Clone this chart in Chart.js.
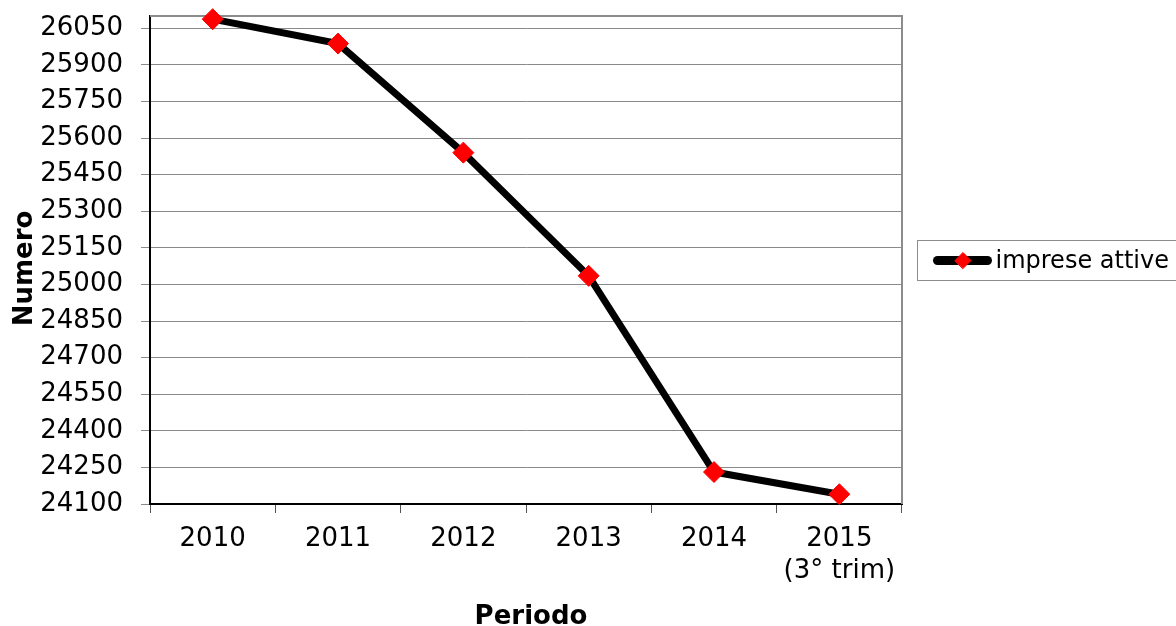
<!DOCTYPE html>
<html lang="it">
<head>
<meta charset="utf-8">
<title>Imprese attive</title>
<script src="https://cdn.jsdelivr.net/npm/chart.js@4/dist/chart.umd.min.js"></script>
<style>
  html, body { margin: 0; padding: 0; background: #ffffff; }
  #wrap { width: 1176px; height: 626px; position: relative; }
</style>
</head>
<body>
<div id="wrap"><canvas id="chart" width="1176" height="626"></canvas></div>
<script>
// Periodi e numero di imprese attive
const periodi = ['2010', '2011', '2012', '2013', '2014', ['2015', '(3° trim)']];
const impreseAttive = [26087, 25987, 25540, 25035, 24231, 24140];
const serieNome = 'imprese attive';

// Scala verticale
const yMin = 24100;
const yMax = 26100;
const yTicks = [24100, 24250, 24400, 24550, 24700, 24850, 25000, 25150, 25300, 25450, 25600, 25750, 25900, 26050];

const assi = { x: 'Periodo', y: 'Numero' };

const FONT = '"DejaVu Sans", Verdana, sans-serif';
Chart.defaults.font.family = FONT;
Chart.defaults.color = '#000000';

// Bordo superiore/destro dell'area del grafico, titoli degli assi e legenda
const cornice = {
  id: 'cornice',
  beforeDatasetsDraw(chart) {
    const { ctx, chartArea: a } = chart;
    ctx.save();
    ctx.strokeStyle = '#8c8c8c';
    ctx.lineWidth = 2;
    ctx.beginPath();
    ctx.moveTo(a.left, a.top);
    ctx.lineTo(a.right, a.top);
    ctx.lineTo(a.right, a.bottom);
    ctx.stroke();
    ctx.restore();
  },
  afterDraw(chart) {
    const { ctx, chartArea: a } = chart;
    const ds = chart.data.datasets[0];
    ctx.save();
    ctx.fillStyle = '#000000';
    ctx.font = 'bold 26px ' + FONT;
    ctx.textAlign = 'center';
    ctx.textBaseline = 'middle';
    // titolo asse X
    ctx.fillText(assi.x, (a.left + a.right) / 2 + 5, chart.height - 9);
    // titolo asse Y
    ctx.translate(25, (a.top + a.bottom) / 2 + 8.5);
    ctx.rotate(-Math.PI / 2);
    ctx.fillText(assi.y, 0, 0);
    ctx.restore();

    // legenda
    const lx = a.right + 15.5, ly = 240.5, lh = 40;
    const cy = ly + lh / 2;
    ctx.save();
    ctx.strokeStyle = '#8c8c8c';
    ctx.lineWidth = 1;
    ctx.strokeRect(lx, ly, 400, lh);
    ctx.strokeStyle = ds.borderColor;
    ctx.lineWidth = 9;
    ctx.lineCap = 'round';
    ctx.beginPath();
    ctx.moveTo(lx + 20, cy);
    ctx.lineTo(lx + 70, cy);
    ctx.stroke();
    ctx.fillStyle = ds.pointBackgroundColor;
    ctx.strokeStyle = ds.pointBorderColor;
    ctx.lineWidth = 1;
    Chart.helpers.drawPoint(ctx, { pointStyle: ds.pointStyle, radius: 8, rotation: 0, borderWidth: 1 }, lx + 45.5, cy);
    ctx.fillStyle = '#000000';
    ctx.font = '24px ' + FONT;
    ctx.textAlign = 'left';
    ctx.textBaseline = 'middle';
    ctx.fillText(ds.label, lx + 78, cy + 1);
    ctx.restore();
  }
};

new Chart(document.getElementById('chart'), {
  type: 'line',
  data: {
    labels: periodi,
    datasets: [{
      label: serieNome,
      data: impreseAttive,
      borderColor: '#000000',
      borderWidth: 7,
      tension: 0,
      fill: false,
      clip: false,
      pointStyle: 'rectRot',
      pointRadius: 10.5,
      pointHoverRadius: 10.5,
      pointBackgroundColor: '#ff0000',
      pointBorderColor: '#ff0000',
      pointBorderWidth: 1
    }]
  },
  options: {
    responsive: false,
    animation: false,
    events: [],
    layout: { padding: { top: 16, right: 274, bottom: 0, left: 0 } },
    plugins: {
      legend: { display: false },
      tooltip: { enabled: false },
      title: { display: false }
    },
    scales: {
      x: {
        type: 'category',
        offset: true,
        afterFit(scale) {
          scale.height = 122;
          scale.paddingLeft = 0;
          scale.paddingRight = 0;
        },
        grid: {
          offset: true,
          drawOnChartArea: false,
          drawTicks: true,
          tickLength: 9,
          color: '#555555',
          lineWidth: 1
        },
        border: { display: true, color: '#000000', width: 2 },
        ticks: {
          padding: 11,
          maxRotation: 0,
          autoSkip: false,
          font: { size: 26, lineHeight: 1.2 },
          color: '#000000'
        }
      },
      y: {
        min: yMin,
        max: yMax,
        afterFit(scale) {
          scale.width = 150;
          scale.paddingTop = 0;
          scale.paddingBottom = 0;
        },
        afterBuildTicks(scale) { scale.ticks = yTicks.map(v => ({ value: v })); },
        grid: {
          drawTicks: true,
          tickLength: 9,
          color: '#8a8a8a',
          lineWidth: 1
        },
        border: { display: true, color: '#000000', width: 2 },
        ticks: {
          padding: 18,
          font: { size: 26 },
          color: '#000000',
          callback: v => String(v)
        }
      }
    }
  },
  plugins: [cornice]
});
</script>
</body>
</html>
